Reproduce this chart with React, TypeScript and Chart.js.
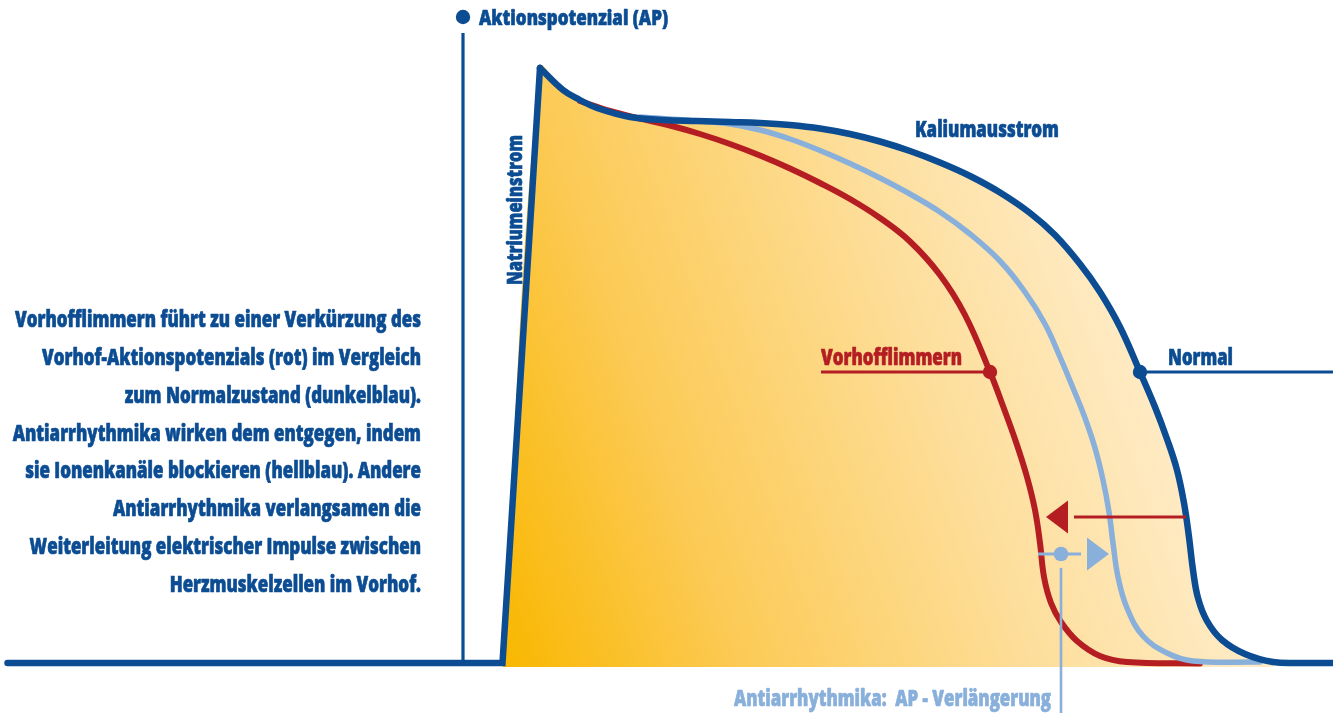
import React, { useEffect, useRef } from "react";
import { Chart, registerables } from "chart.js";
Chart.register(...registerables);

const W = 1333;
const H = 713;

// x: time (ms), y: membrane potential (mV)
const upstrokeT = [-197, 1, 16];
const upstrokeV = [-85, -85, 34];

const normalT = [16, 25.2, 32, 38.8, 52, 65.2, 78.8, 92, 104, 116, 128, 140, 152, 164, 176, 188, 200, 212, 222, 232, 240, 248, 256, 262, 266.8, 270.8, 273.6, 275.6, 277.2, 279.2, 282.8, 288.8, 298, 309.2, 320, 333.2];
const normalV = [34, 29.6, 27.6, 26.0, 24.2, 23.6, 23.4, 23.2, 23.0, 22.6, 21.9, 20.8, 19.3, 17.4, 15.1, 12.4, 9.1, 5.0, 0.6, -5.2, -10.8, -17.8, -26.8, -33.8, -40.2, -46.4, -53.0, -59.8, -66.4, -72.0, -76.6, -80.4, -83.2, -84.8, -85, -85];

const redT = [32, 44, 56, 68, 80, 92, 104, 116, 128, 140, 152, 164, 176, 186, 196, 201.2, 206.4, 210.8, 214, 216, 217.6, 220.4, 224.4, 230.8, 240, 250.8, 280];
const redV = [27.4, 25.4, 23.9, 22.5, 20.8, 18.8, 16.5, 13.9, 11.0, 7.8, 4.0, -0.7, -7.4, -15.4, -26.8, -33.6, -40.8, -47.8, -54.4, -61.0, -67.8, -73.0, -76.8, -80.6, -83.6, -84.8, -85.1];

const blueT = [56, 80, 92, 104, 116, 128, 140, 152, 164, 176, 188, 200, 210, 218, 224, 229.2, 234, 238, 241.2, 243.6, 245.2, 247.2, 250.8, 257.2, 266.8, 277.2, 304];
const blueV = [24.2, 23.4, 22.8, 21.6, 19.8, 17.5, 14.9, 12.0, 8.8, 5.2, 0.8, -4.6, -10.8, -17.2, -23.8, -30.0, -36.0, -42.0, -48.4, -54.8, -61.0, -67.8, -74.0, -79.6, -83.0, -84.6, -84.8];

const paragraph = [
  "Vorhofflimmern führt zu einer Verkürzung des",
  "Vorhof-Aktionspotenzials (rot) im Vergleich",
  "zum Normalzustand (dunkelblau).",
  "Antiarrhythmika wirken dem entgegen, indem",
  "sie Ionenkanäle blockieren (hellblau). Andere",
  "Antiarrhythmika verlangsamen die",
  "Weiterleitung elektrischer Impulse zwischen",
  "Herzmuskelzellen im Vorhof.",
];

const TITLE = "Aktionspotenzial (AP)";
const NA_LABEL = "Natriumeinstrom";
const K_LABEL = "Kaliumausstrom";
const AF_LABEL = "Vorhofflimmern";
const NORMAL_LABEL = "Normal";
const AAR_LABEL = "Antiarrhythmika:  AP - Verlängerung";

const DARK = "#0b4c92";
const RED = "#b41e23";
const LIGHT = "#89afdb";
const FONT = '"Open Sans", "Noto Sans", sans-serif';
const TENSION = 0.4;

const pts = (t: number[], v: number[]) => t.map((x, i) => ({ x, y: v[i] }));

function drawText(ctx: CanvasRenderingContext2D, s: string, x: number, y: number, size: number, color: string, width: number, align: CanvasTextAlign = "left") {
  ctx.save();
  ctx.font = `800 ${size}px ${FONT}`;
  const w = ctx.measureText(s).width;
  ctx.translate(x, y);
  ctx.scale(width / w, 1);
  ctx.textAlign = align;
  ctx.textBaseline = "alphabetic";
  ctx.fillStyle = color;
  ctx.strokeStyle = color;
  ctx.lineWidth = 0.7;
  ctx.lineJoin = "round";
  ctx.fillText(s, 0, 0);
  ctx.strokeText(s, 0, 0);
  ctx.restore();
}

const annotations = {
  id: "annotations",
  afterDatasetsDraw(chart: any) {
    const ctx: CanvasRenderingContext2D = chart.ctx;
    const X = (t: number) => chart.scales.x.getPixelForValue(t);
    const Y = (v: number) => chart.scales.y.getPixelForValue(v);
    const line = (x1: number, y1: number, x2: number, y2: number, c: string, w: number) => {
      ctx.save();
      ctx.strokeStyle = c;
      ctx.lineWidth = w;
      ctx.beginPath();
      ctx.moveTo(x1, y1);
      ctx.lineTo(x2, y2);
      ctx.stroke();
      ctx.restore();
    };
    const dot = (x: number, y: number, r: number, c: string) => {
      ctx.save();
      ctx.fillStyle = c;
      ctx.beginPath();
      ctx.arc(x, y, r, 0, Math.PI * 2);
      ctx.fill();
      ctx.restore();
    };
    const tri = (a: number[], b: number[], c: number[], col: string) => {
      ctx.save();
      ctx.fillStyle = col;
      ctx.beginPath();
      ctx.moveTo(a[0], a[1]);
      ctx.lineTo(b[0], b[1]);
      ctx.lineTo(c[0], c[1]);
      ctx.closePath();
      ctx.fill();
      ctx.restore();
    };

    // vertical axis + title
    const axX = X(-14.8);
    line(axX, Y(41), axX, Y(-85), DARK, 3.2);
    dot(axX, 17, 7.2, DARK);
    drawText(ctx, TITLE, 479, 25, 21, DARK, 189);

    // Natriumeinstrom rotated
    ctx.save();
    ctx.translate(522, 285);
    ctx.rotate(-Math.PI / 2);
    drawText(ctx, NA_LABEL, 0, 0, 21, DARK, 150);
    ctx.restore();

    drawText(ctx, K_LABEL, 915, 137, 22, DARK, 144);

    // Vorhofflimmern label + marker
    const lvlY = Y(-26.8);
    drawText(ctx, AF_LABEL, 821, 365, 22, RED, 141);
    line(821, lvlY, X(196), lvlY, RED, 3);
    dot(X(196), lvlY, 7.2, RED);

    // Normal label + marker
    drawText(ctx, NORMAL_LABEL, 1168, 365, 22, DARK, 65);
    line(X(256), lvlY, W, lvlY, DARK, 3);
    dot(X(256), lvlY, 7.2, DARK);

    // red arrow (shortening)
    const ay = Y(-55.8);
    line(X(229.6), ay, X(274.4), ay, RED, 3);
    tri([X(218.4), ay], [X(227.2), ay - 16.5], [X(227.2), ay + 16.5], RED);

    // light blue arrow (prolongation)
    const by = Y(-63.2);
    line(X(215.2), by, X(232.4), by, LIGHT, 3);
    dot(X(224.4), by, 7.3, LIGHT);
    tri([X(243.6), by], [X(234.8), by - 16.5], [X(234.8), by + 16.5], LIGHT);
    line(X(224.4), by + 14, X(224.4), H, LIGHT, 2.6);
    drawText(ctx, AAR_LABEL, 734, 706, 22, LIGHT, 317);

    // paragraph
    ctx.save();
    ctx.font = `800 22px ${FONT}`;
    const sx = 406 / ctx.measureText(paragraph[0]).width;
    ctx.restore();
    paragraph.forEach((s, i) => {
      ctx.save();
      ctx.font = `800 22px ${FONT}`;
      const w = ctx.measureText(s).width;
      ctx.restore();
      drawText(ctx, s, 421, 327 + i * 37.86, 22, DARK, w * sx, "right");
    });
  },
};

export default function App() {
  const ref = useRef<HTMLCanvasElement | null>(null);
  useEffect(() => {
    const canvas = ref.current;
    if (!canvas) return;
    document.body.style.margin = "0";
    const fillData = pts([upstrokeT[1], ...normalT.slice(0, 34)], [upstrokeV[1], ...normalV.slice(0, 34)]);
    const chart = new Chart(canvas, {
      type: "line",
      data: {
        datasets: [
          {
            label: "fill",
            data: fillData,
            borderWidth: 0,
            borderColor: "rgba(0,0,0,0)",
            pointRadius: 0,
            tension: TENSION,
            fill: { value: -85.8 },
            order: 5,
            backgroundColor: (c: any) => {
              const ch = c.chart;
              if (!ch.chartArea) return "#fcd06a";
              const sx = ch.scales.x;
              const sy = ch.scales.y;
              const g = ch.ctx.createLinearGradient(sx.getPixelForValue(2), sy.getPixelForValue(-85.8), sx.getPixelForValue(300), sy.getPixelForValue(-32.4));
              g.addColorStop(0, "#f9b700");
              g.addColorStop(0.28, "#fcca55");
              g.addColorStop(0.65, "#fddf9e");
              g.addColorStop(1, "#fff0d6");
              return g;
            },
          } as any,
          {
            label: "Vorhofflimmern",
            data: pts(redT, redV),
            borderColor: RED,
            borderWidth: 6,
            pointRadius: 0,
            tension: TENSION,
            borderCapStyle: "round",
            fill: false,
            order: 4,
          },
          {
            label: "Antiarrhythmika",
            data: pts(blueT, blueV),
            borderColor: LIGHT,
            borderWidth: 5.5,
            pointRadius: 0,
            tension: TENSION,
            borderCapStyle: "round",
            fill: false,
            order: 3,
          },
          {
            label: "Upstroke",
            data: pts(upstrokeT, upstrokeV),
            borderColor: DARK,
            borderWidth: 6.5,
            pointRadius: 0,
            tension: 0,
            borderCapStyle: "round",
            borderJoinStyle: "miter",
            fill: false,
            order: 2,
          },
          {
            label: "Normal",
            data: pts(normalT, normalV),
            borderColor: DARK,
            borderWidth: 6.5,
            pointRadius: 0,
            tension: TENSION,
            borderCapStyle: "round",
            fill: false,
            order: 1,
          },
        ],
      },
      options: {
        animation: false,
        responsive: false,
        devicePixelRatio: 1,
        events: [],
        layout: { padding: 0 },
        plugins: { legend: { display: false }, tooltip: { enabled: false } },
        scales: {
          x: { type: "linear", min: -200, max: 333.2, display: false },
          y: { type: "linear", min: -95, max: 47.6, display: false },
        },
      },
      plugins: [annotations],
    });
    return () => chart.destroy();
  }, []);
  return (
    <div style={{ position: "fixed", left: 0, top: 0, width: W, height: H, background: "#fff" }}>
      <canvas ref={ref} width={W} height={H} style={{ display: "block", width: W, height: H }} />
    </div>
  );
}
